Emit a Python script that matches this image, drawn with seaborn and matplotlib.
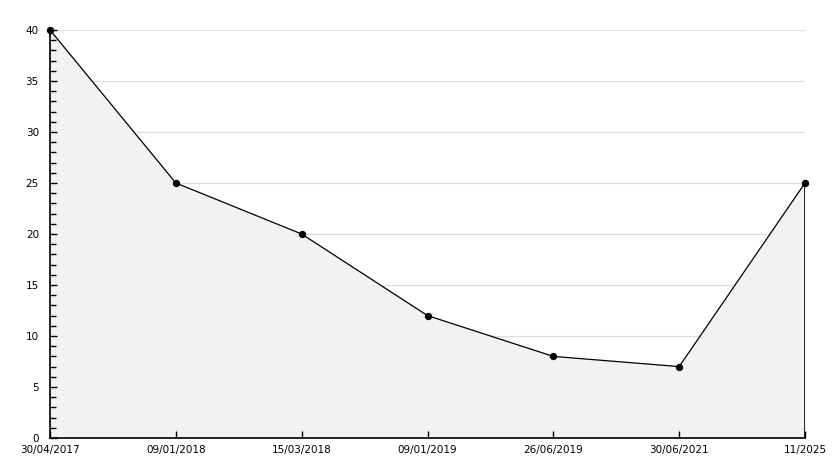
import numpy as np
import pandas as pd
import matplotlib
matplotlib.use("Agg")
import matplotlib.pyplot as plt
import seaborn as sns
from matplotlib.ticker import MultipleLocator

# dados
datas = ["30/04/2017", "09/01/2018", "15/03/2018", "09/01/2019", "26/06/2019", "30/06/2021", "11/2025"]
valores = [40, 25, 20, 12, 8, 7, 25]

df = pd.DataFrame({"pos": np.arange(len(datas)), "valor": valores})

sns.set_style("white")
plt.rcParams["font.family"] = ["DejaVu Sans"]

fig = plt.figure(figsize=(8.34, 4.68), dpi=100)
ax = fig.add_axes([50 / 834, 1 - 438 / 468, 755 / 834, 408 / 468])

ax.fill_between(df["pos"], df["valor"], 0, color="#f2f2f2", zorder=1)
sns.lineplot(data=df, x="pos", y="valor", ax=ax, color="black", linewidth=0.9,
             marker="o", markersize=4.5, markeredgecolor="black", zorder=4, clip_on=False)
# borda direita do preenchimento
ax.vlines(df["pos"].iloc[-1], 0, df["valor"].iloc[-1], color="black", linewidth=1.2, zorder=2)

ax.set_xlim(0, len(datas) - 1)
ax.set_ylim(0, 40)
ax.set_xticks(df["pos"])
ax.set_xticklabels(datas)
ax.yaxis.set_major_locator(MultipleLocator(5))
ax.yaxis.set_minor_locator(MultipleLocator(1))

# grade atras do preenchimento, ticks na frente
ax.grid(False)
ax.set_axisbelow(False)
for y in ax.get_yticks():
    if 0 < y <= 40:
        ax.axhline(y, color="#dddddd", linewidth=0.9, zorder=0.5)

ax.tick_params(axis="y", which="major", direction="in", left=True, length=5, width=1,
               color="black", labelsize=7.5, labelcolor="black", pad=8)
ax.tick_params(axis="y", which="minor", direction="in", left=True, length=4, width=1, color="black")
ax.tick_params(axis="x", which="major", direction="in", bottom=True, length=5, width=1,
               color="black", labelsize=7.5, labelcolor="black", pad=5)

for s in ["top", "right"]:
    ax.spines[s].set_visible(False)
for s in ["left", "bottom"]:
    ax.spines[s].set_color("black")
    ax.spines[s].set_linewidth(1.2)

ax.set_xlabel("")
ax.set_ylabel("")

fig.savefig("out.png", dpi=100)
